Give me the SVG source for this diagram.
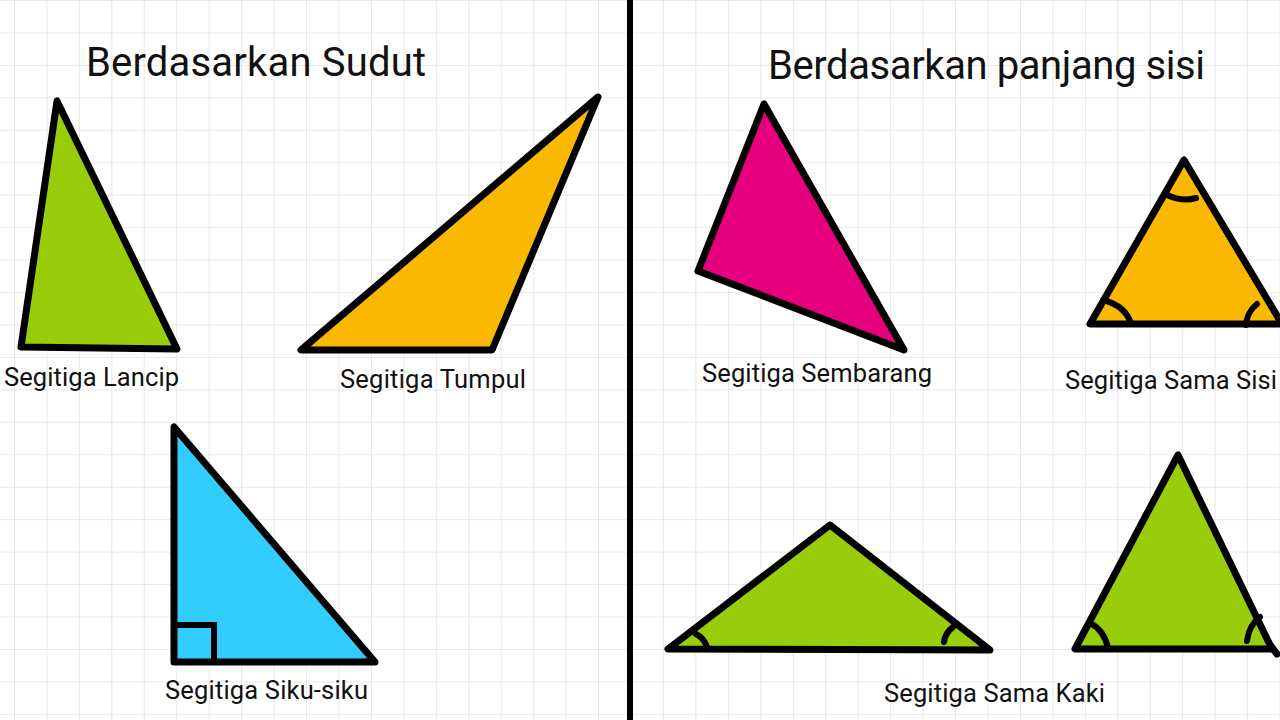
<svg xmlns="http://www.w3.org/2000/svg" width="1280" height="720" viewBox="0 0 1280 720">
<defs>
<pattern id="grid" x="14" y="0" width="32.45" height="32.45" patternUnits="userSpaceOnUse">
<path d="M0 0 V32.45 M0 0 H32.45" fill="none" stroke="#e2e2e2" stroke-width="1.6"/>
</pattern>
<style>
.tri{stroke:#000;stroke-width:7;stroke-linejoin:round;stroke-linecap:round}
.arc{fill:none;stroke:#000;stroke-width:6;stroke-linecap:round}
.title{font-family:Roboto,"Liberation Sans",sans-serif;font-size:40px;fill:#111}
.lbl{font-family:Roboto,"Liberation Sans",sans-serif;font-size:25.5px;fill:#111}
</style>
</defs>
<rect width="1280" height="720" fill="#fff"/>
<rect width="1280" height="720" fill="url(#grid)"/>
<line x1="630" y1="0" x2="630" y2="720" stroke="#000" stroke-width="6"/>
<text class="title" x="86" y="76" textLength="340">Berdasarkan Sudut</text>
<text class="title" x="768" y="79" textLength="437">Berdasarkan panjang sisi</text>
<g id="lancip">
<polygon class="tri" fill="#99cc0a" points="57,101 21,347 177,349"/>
<text class="lbl" x="4" y="386" textLength="175">Segitiga Lancip</text>
</g>
<g id="tumpul">
<polygon class="tri" fill="#fbb800" points="598,97 301,350 492,350"/>
<text class="lbl" x="340" y="388" textLength="186">Segitiga Tumpul</text>
</g>
<g id="siku">
<polygon class="tri" fill="#33ccff" points="174,427 174,662 375,662"/>
<path class="arc" d="M174 625 H214 V662"/>
<text class="lbl" x="165" y="699" textLength="203">Segitiga Siku-siku</text>
</g>
<g id="sembarang">
<polygon class="tri" fill="#e6007e" points="764,104 698,271 904,350"/>
<text class="lbl" x="702" y="382" textLength="230">Segitiga Sembarang</text>
</g>
<g id="samasisi">
<polygon class="tri" fill="#fbb800" points="1184,160 1090,324 1282,324"/>
<path class="arc" d="M1167 195 Q1182 202 1196 198"/>
<path class="arc" d="M1103 300 Q1126 306 1131 324"/>
<path class="arc" d="M1246 325 Q1247 312 1257 304"/>
<text class="lbl" x="1065" y="389" textLength="212">Segitiga Sama Sisi</text>
</g>
<g id="samakaki1">
<polygon class="tri" fill="#99cc0a" points="830,525 668,649 990,650"/>
<path class="arc" d="M696 634 Q704 638 707 647"/>
<path class="arc" d="M944 642 Q945 633 953 627"/>
<text class="lbl" x="884" y="702" textLength="221">Segitiga Sama Kaki</text>
</g>
<g id="samakaki2">
<polygon class="tri" fill="#99cc0a" points="1178,455 1075,649 1272,649"/>
<line class="tri" x1="1270" y1="645" x2="1277" y2="654"/>
<path class="arc" d="M1090 623 Q1104 630 1108 648"/>
<path class="arc" d="M1247 641 Q1249 625 1260 617"/>
</g>
</svg>
